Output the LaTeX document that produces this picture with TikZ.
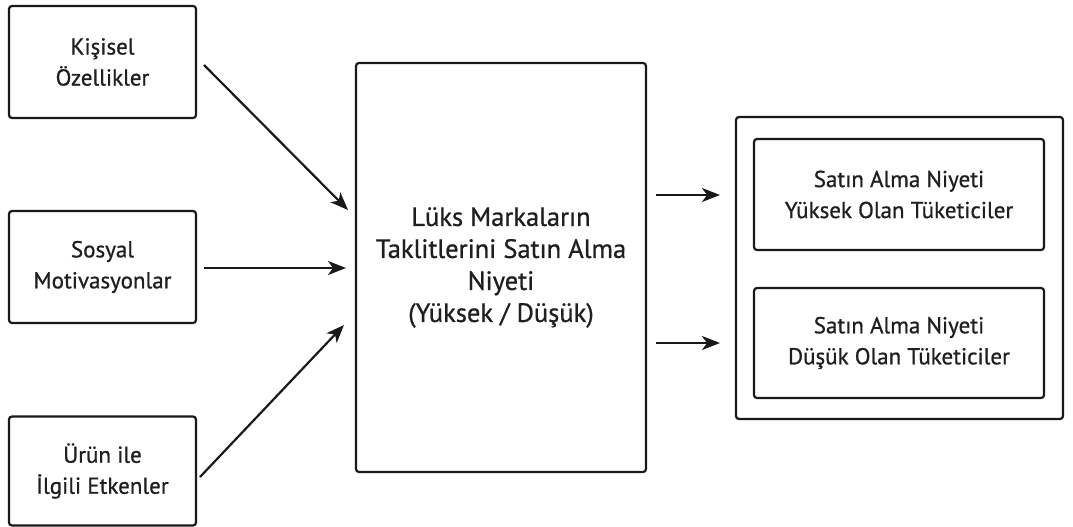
\documentclass[tikz,border=0pt]{standalone}
\usepackage{fontspec}
\setmainfont{PT Sans}[FakeBold=0.8]
\usetikzlibrary{arrows.meta}
\begin{document}
\begin{tikzpicture}[x=1pt,y=-1pt,
  box/.style={draw=black!90, line width=2.2pt, rounded corners=3pt, align=center, inner sep=0pt,
    font=\fontsize{23}{31}\selectfont, text=black!88},
  arr/.style={line width=2.2pt, draw=black!90, -{Stealth[length=18pt,width=14pt,inset=5pt]}}]
\useasboundingbox (0,0) rectangle (1073,527);
\node[box, minimum width=187pt, minimum height=112pt] (k) at (102.5,62) {Kişisel\\Özellikler};
\node[box, minimum width=187pt, minimum height=112pt] (s) at (102.5,267) {Sosyal\\Motivasyonlar};
\node[box, minimum width=187pt, minimum height=109pt] (u) at (102.5,471) {Ürün ile\\İlgili Etkenler};
\node[box, minimum width=290pt, minimum height=409pt, font=\fontsize{26.5}{32}\selectfont] (m) at (501,267.5) {Lüks Markaların\\Taklitlerini Satın Alma\\Niyeti\\(Yüksek / Düşük)};
\node[draw=black!90, line width=2.2pt, rounded corners=3pt, minimum width=327pt, minimum height=302pt, inner sep=0pt] (o) at (899.5,268) {};
\node[box, minimum width=290pt, minimum height=111pt] (h) at (899,194.5) {Satın Alma Niyeti\\Yüksek Olan Tüketiciler};
\node[box, minimum width=290pt, minimum height=110pt] (l) at (899,343) {Satın Alma Niyeti\\Düşük Olan Tüketiciler};
\coordinate (a1s) at (204,65); \coordinate (a1e) at (348,210);
\coordinate (a2s) at (204,268); \coordinate (a2e) at (346,268);
\coordinate (a3s) at (200,477); \coordinate (a3e) at (344,325);
\coordinate (r1s) at (656,195); \coordinate (r1e) at (720,195);
\coordinate (r2s) at (656,343); \coordinate (r2e) at (720,343);
\draw[arr] (a1s) -- (a1e);
\draw[arr] (a2s) -- (a2e);
\draw[arr] (a3s) -- (a3e);
\draw[arr] (r1s) -- (r1e);
\draw[arr] (r2s) -- (r2e);
\end{tikzpicture}
\end{document}
